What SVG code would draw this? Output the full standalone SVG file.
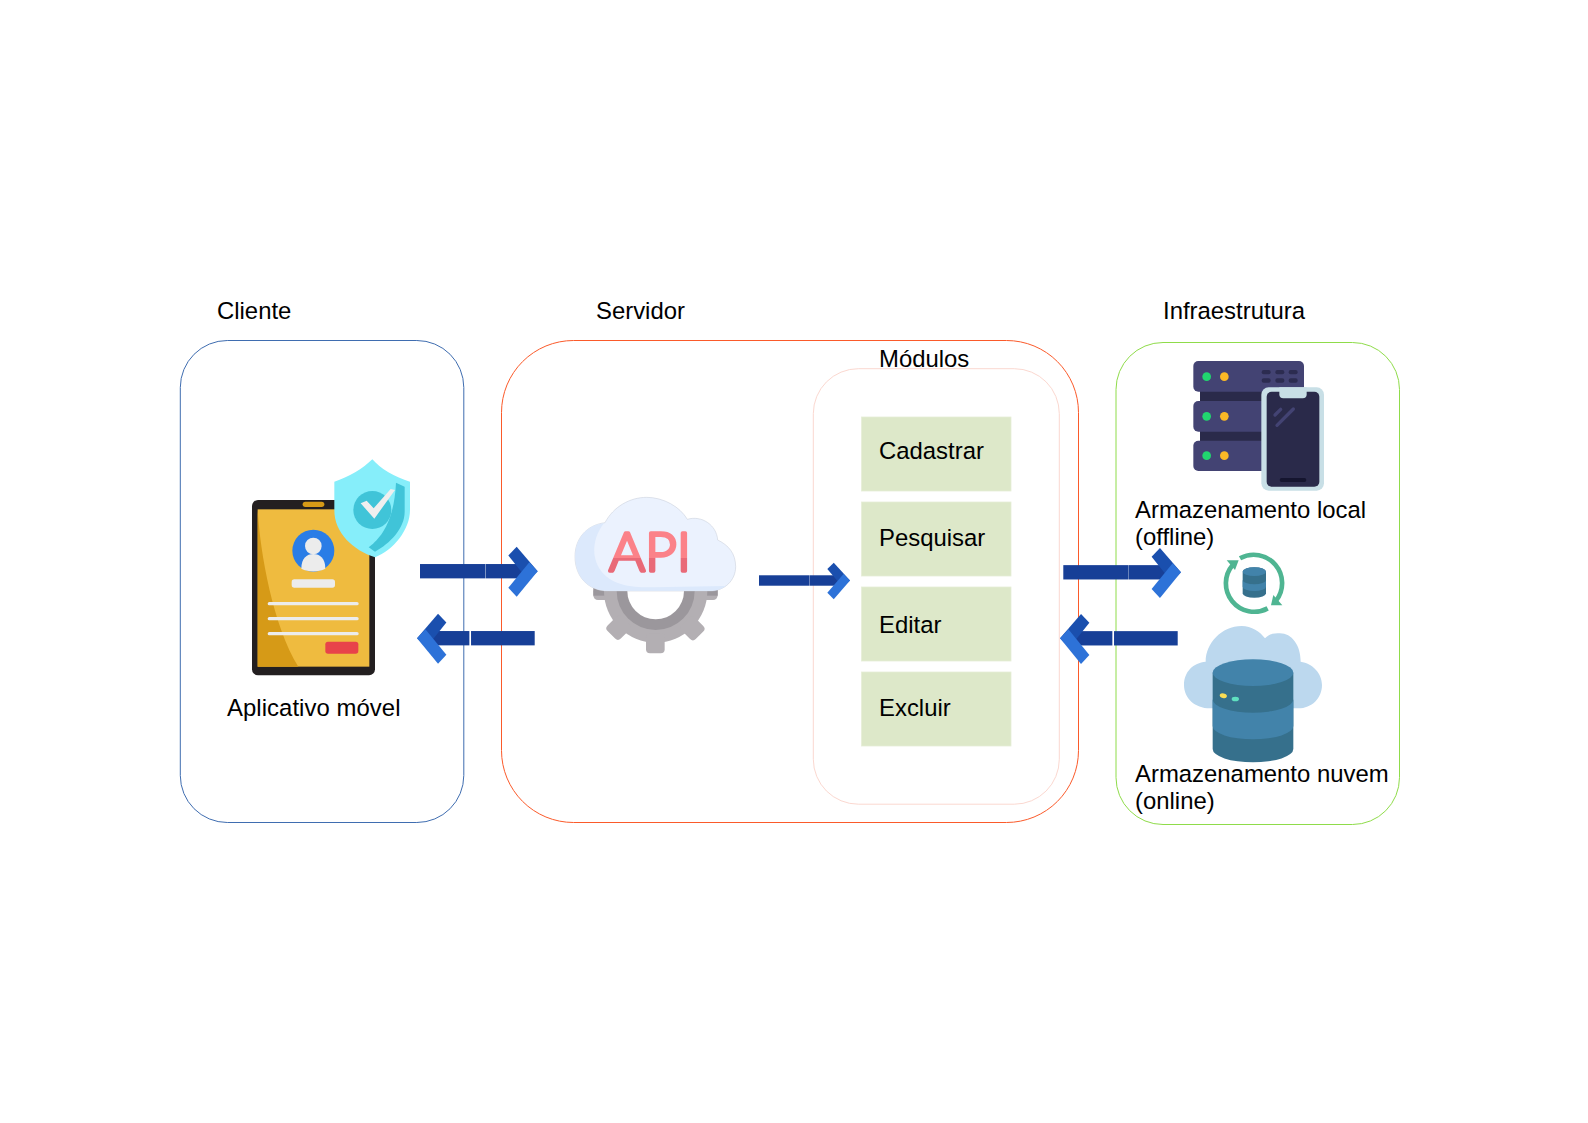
<svg xmlns="http://www.w3.org/2000/svg" width="1588" height="1123" viewBox="0 0 1588 1123">
<style>
text{font-family:"Liberation Sans",Arial,sans-serif;font-size:23.9px;fill:#000}
.c{fill:none;stroke-width:1}
.b{fill:#dde8c9;stroke:#e6eed8;stroke-width:.8}
.w{fill:#ececec}
.l{stroke:#ececec;stroke-width:10;stroke-linecap:round}
.r{fill:#434373}
.k{fill:#2a2a4a}
.g{fill:#21d66f}
.y{fill:#fbb926}
.s{fill:#2c2c50}
.d1{fill:#4283aa}
.d2{fill:#36708c}
.t{fill:#b3afb3}
.t2{fill:#9b979c}
</style>
<defs>
<linearGradient id="api" gradientUnits="userSpaceOnUse" x1="0" y1="530" x2="0" y2="575">
<stop offset="0.62" stop-color="#fb8289"/><stop offset="0.62" stop-color="#e96a78"/>
</linearGradient>
<g id="head">
<polygon points="265,-47 290,-73 353,0 325,28" fill="#1a4fae"/>
<polygon points="328,-27 353,0 290,77 265,50" fill="#2d72d8"/>
</g>
<g id="arrow">
<rect x="0" y="-21.5" width="196" height="43" fill="#173f97"/>
<rect x="197" y="-21.5" width="110" height="43" fill="#173f97"/>
<use href="#head"/>
</g>
<g id="arrow-back">
<rect x="0" y="-21.5" width="191" height="43" fill="#173f97"/>
<rect x="196" y="-21.5" width="111" height="43" fill="#173f97"/>
<use href="#head"/>
</g>
</defs>

<g id="cliente">
<rect class="c" x="180.3" y="340.5" width="283.5" height="482" rx="47" stroke="#3f6db0"/>
<text x="217" y="319">Cliente</text>
<text x="227" y="716" textLength="173.5">Aplicativo móvel</text>
<g transform="translate(230,440) scale(.33333)">
<rect x="66" y="180" width="369" height="526" rx="18" fill="#231f20"/>
<rect x="83" y="208" width="335" height="472" fill="#efbb3f"/>
<path d="M83,208 C90,340 130,560 205,680 L83,680Z" fill="#d69a17"/>
<rect x="218" y="185" width="65" height="16" rx="8" fill="#d69a17"/>
<circle cx="250" cy="332" r="63" fill="#2a7de6"/>
<circle cx="250" cy="318" r="25" class="w"/>
<path d="M214,386 C214,355 230,342 250,342 C270,342 286,355 286,386 C265,397 235,397 214,386Z" class="w"/>
<rect x="185" y="418" width="130" height="25" rx="8" class="w"/>
<line class="l" x1="118" y1="491" x2="381" y2="491"/>
<line class="l" x1="118" y1="536" x2="381" y2="536"/>
<line class="l" x1="118" y1="581" x2="381" y2="581"/>
<rect x="286" y="605" width="99" height="36" rx="8" fill="#e8434a"/>
<path d="M427,58 C450,85 495,112 540,125 L540,210 C540,270 490,330 435,352 C370,330 313,280 313,210 L313,125 C355,112 400,85 427,58Z" fill="#86eefa"/>
<path d="M498,128 L524,140 L524,215 C524,265 480,310 435,335 L416,322 C445,300 492,255 498,128Z" fill="#40c4d8"/>
<circle cx="427" cy="210" r="57" fill="#40c4d8"/>
<polygon points="392,190 410,182 431,205 482,147 495,150 433,236" fill="#efefef"/>
</g>
</g>

<g id="servidor">
<rect class="c" x="501.5" y="340.5" width="577" height="482" rx="72" stroke="#fb5a2a"/>
<text x="596" y="319">Servidor</text>
<g id="api-icon">
<g transform="translate(400,480) scale(.33333)">
<rect x="580" y="320" width="373" height="40" rx="14" class="t"/>
<rect x="580" y="320" width="373" height="27" class="t2"/>
<circle cx="767" cy="333" r="155" class="t"/>
<rect x="738" y="460" width="56" height="60" rx="12" class="t"/>
<rect x="738" y="460" width="56" height="60" rx="12" class="t" transform="rotate(45 767 333)"/>
<rect x="738" y="460" width="56" height="60" rx="12" class="t" transform="rotate(-45 767 333)"/>
<circle cx="767" cy="333" r="117" class="t2"/>
<circle cx="767" cy="333" r="85" fill="#fff"/>
<path d="M625,333 C565,333 525,290 525,230 C525,175 560,135 615,128 C640,80 690,52 740,52 C790,52 840,80 862,118 C905,105 950,135 953,180 C985,195 1007,220 1007,260 C1007,300 975,333 930,333Z" fill="#ebf2fe" stroke="#c4cad6" stroke-width="1.5"/>
<path d="M625,332 C565,332 526,290 526,230 C526,175 560,135 612,130 C580,170 570,230 605,275 C640,318 700,322 760,322 L977,318 C965,328 950,332 930,332Z" fill="#dce9fc"/>
</g>
<text x="609" y="570.5" style="font-size:54px;font-family:Lato,'Liberation Sans',sans-serif;font-weight:300;fill:url(#api);stroke:url(#api);stroke-width:3.5;stroke-linejoin:round" textLength="82" lengthAdjust="spacingAndGlyphs">API</text>
</g>
</g>

<g id="modulos">
<rect class="c" x="813.3" y="368.7" width="246" height="435.5" rx="45" stroke="#fbd8d0"/>
<text x="879" y="367">Módulos</text>
</g>
<g id="cadastrar"><rect class="b" x="861.5" y="417" width="149.5" height="74"/><text x="879" y="459">Cadastrar</text></g>
<g id="pesquisar"><rect class="b" x="861.5" y="502" width="149.5" height="74"/><text x="879" y="546">Pesquisar</text></g>
<g id="editar"><rect class="b" x="861.5" y="587" width="149.5" height="74"/><text x="879" y="633">Editar</text></g>
<g id="excluir"><rect class="b" x="861.5" y="672" width="149.5" height="74"/><text x="879" y="716">Excluir</text></g>

<g id="infraestrutura">
<rect class="c" x="1116" y="342.5" width="283.5" height="482" rx="47" stroke="#8fdc4a"/>
<text x="1163" y="319">Infraestrutura</text>
</g>
<g id="armazenamento-local">
<g transform="translate(1160,345) scale(.33333)">
<rect x="120" y="130" width="250" height="170" class="k"/>
<rect class="r" x="100" y="48" width="332" height="92" rx="15"/>
<rect class="r" x="100" y="168" width="332" height="92" rx="15"/>
<rect class="r" x="100" y="287" width="332" height="91" rx="15"/>
<circle class="g" cx="140" cy="95" r="13"/><circle class="y" cx="193" cy="95" r="13"/>
<circle class="g" cx="140" cy="214" r="13"/><circle class="y" cx="193" cy="214" r="13"/>
<circle class="g" cx="140" cy="332" r="13"/><circle class="y" cx="193" cy="332" r="13"/>
<rect class="s" x="305" y="75" width="27" height="13" rx="6"/><rect class="s" x="346" y="75" width="27" height="13" rx="6"/><rect class="s" x="386" y="75" width="27" height="13" rx="6"/>
<rect class="s" x="305" y="100" width="27" height="13" rx="6"/><rect class="s" x="346" y="100" width="27" height="13" rx="6"/><rect class="s" x="386" y="100" width="27" height="13" rx="6"/>
<rect x="304" y="127" width="188" height="310" rx="22" fill="#c8dfe6"/>
<rect x="320" y="140" width="158" height="285" rx="15" class="k"/>
<path d="M358,127 H440 V148 Q440,160 428,160 H370 Q358,160 358,148Z" fill="#c8dfe6"/>
<rect x="359" y="399" width="80" height="12" rx="6" fill="#15152f"/>
<path d="M345,210 L362,193 M351,241 L400,192" stroke="#434373" stroke-width="10" stroke-linecap="round" fill="none"/>
</g>
<text x="1135" y="518">Armazenamento local</text>
<text x="1135" y="545">(offline)</text>
</g>
<g id="sincronizacao" transform="translate(1040,530) scale(.33333)">
<path d="M600,85 A85,85 0 0 1 708,212" fill="none" stroke="#4fb592" stroke-width="14"/>
<path d="M683,235 A85,85 0 0 1 578,105" fill="none" stroke="#4fb592" stroke-width="14"/>
<polygon points="560,91 596,91 585,120" fill="#4fb592"/>
<polygon points="693,226 727,226 700,195" fill="#4fb592"/>
<path d="M608,125 A35,13 0 0 1 678,125 V190 A35,13 0 0 1 608,190Z" class="d2"/>
<ellipse cx="643" cy="125" rx="35" ry="13" class="d1"/>
<path d="M608,150 A35,13 0 0 0 678,150 V170 A35,13 0 0 1 608,170Z" class="d1"/>
</g>
<g id="armazenamento-nuvem">
<g transform="translate(1040,530) scale(.33333)">
<path d="M510,535 C465,535 432,505 432,465 C432,425 460,398 497,395 C497,340 545,288 605,288 C635,288 660,305 675,325 C690,310 705,310 720,310 C755,310 782,345 782,395 C818,400 846,430 846,465 C846,505 815,535 775,535Z" fill="#bcd8ee"/>
<path d="M518,428 H760 V657 A121,40 0 0 1 518,657Z" class="d2"/>
<path d="M518,508 A121,40 0 0 0 760,508 V588 A121,40 0 0 1 518,588Z" class="d1"/>
<ellipse cx="639" cy="428" rx="121" ry="40" class="d1"/>
<ellipse cx="550" cy="497" rx="11" ry="7" fill="#fadc55" transform="rotate(15 550 497)"/>
<ellipse cx="586" cy="507" rx="11" ry="7" fill="#5fe0c0"/>
</g>
<text x="1135" y="782">Armazenamento nuvem</text>
<text x="1135" y="809">(online)</text>
</g>

<g id="connectors">
<use href="#arrow" transform="translate(420,571.2) scale(.33333)"/>
<use href="#arrow-back" transform="translate(534.7,638.2) scale(-.33333,.33333)"/>
<use href="#arrow" transform="translate(759,580.5) scale(.2578,.2425)"/>
<use href="#arrow" transform="translate(1063.3,572.3) scale(.33333)"/>
<use href="#arrow-back" transform="translate(1177.7,638.3) scale(-.33333,.33333)"/>
</g>
</svg>
